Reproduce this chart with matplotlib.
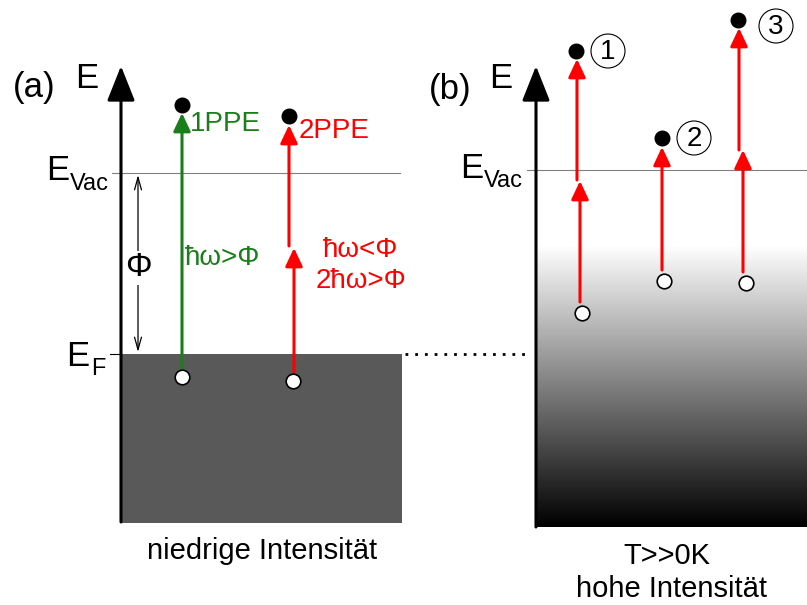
import numpy as np
import matplotlib.pyplot as plt
from matplotlib.patches import Rectangle, Circle

plt.rcParams['font.family'] = ['Liberation Sans', 'DejaVu Sans']

# everything is in pixel units of the 807x605 picture, y grows downwards
W, H = 807, 605

# # Panel (a): niedrige Intensitaet ______________________________________
a_axis = [121, 522, 66]            # x, bottom, arrow tip
a_vac = 173                        # E_Vac
a_fermi = 354                      # E_F
a_metal = [121, 402, 354, 523]     # left, right, top, bottom

# 1PPE: one green photon
ppe1_x = [182]
ppe1_from = [370]
ppe1_to = [113]
ppe1_hole = [182, 377]
ppe1_electron = [182, 105]

# 2PPE: two red photons
ppe2_x = [294, 289]
ppe2_from = [372, 246]
ppe2_to = [248, 125]
ppe2_hole = [293, 381]
ppe2_electron = [289, 116]

# # Panel (b): T>>0K, hohe Intensitaet ___________________________________
b_axis = [536, 527, 66]
b_vac = 170
b_block = [536, 807, 245, 527]

b_low_x = [580, 662, 743]
b_low_from = [302, 270, 272]
b_low_to = [181, 147, 150]
b_high_x = [577, 739]
b_high_from = [180, 150]
b_high_to = [59, 28]
b_holes_x = [582, 664, 746]
b_holes_y = [313, 281, 283]
b_el_x = [576, 662, 738]
b_el_y = [51, 138, 20]
b_tags = ['1', '2', '3']
b_tag_x = [608, 694, 776]
b_tag_y = [51, 138, 26]

GREEN = '#1a7f1a'
RED = '#ff0000'


def arrow(ax, x, y0, y1, color, lw=2.2, hl=0.55, hw=0.26, ms=20):
    ax.annotate('', xy=(x, y1), xytext=(x, y0),
                arrowprops=dict(arrowstyle='-|>,head_length=%g,head_width=%g' % (hl, hw),
                                color=color, lw=lw, shrinkA=0, shrinkB=0,
                                mutation_scale=ms))


def hole(ax, x, y):
    ax.plot(x, y, 'o', ms=10.5, mfc='white', mec='black', mew=1.2, zorder=5)


def electron(ax, x, y):
    ax.plot(x, y, 'o', ms=10.5, color='black', zorder=5)


def energy_axis(ax, xyz):
    x, y0, y1 = xyz
    arrow(ax, x, y0, y1, 'black', lw=2.2, hl=1.08, hw=0.43)


fig = plt.figure(figsize=(W / 100, H / 100), dpi=100)
ax = fig.add_axes([0, 0, 1, 1])

# # Panel (a)
l, r, t, b = a_metal
ax.add_patch(Rectangle((l, t), r - l, b - t, color='#595959', lw=0, zorder=1))
ax.plot([112, 400], [a_vac, a_vac], color='#808080', lw=0.8, zorder=2)
ax.plot([110, a_axis[0]], [a_fermi, a_fermi], color='black', lw=0.8, zorder=2)
ax.plot([r + 3, 530], [a_fermi, a_fermi], color='black', lw=2.0,
        ls=(0, (1, 2.5)), zorder=2)
energy_axis(ax, a_axis)

# work function
ax.annotate('', xy=(138, a_fermi - 2), xytext=(138, a_vac + 2),
            arrowprops=dict(arrowstyle='<->,head_length=0.9,head_width=0.25',
                            color='black', lw=0.9, shrinkA=0, shrinkB=0,
                            mutation_scale=10))
ax.text(138, 268, 'Φ', fontsize=24, ha='center', va='center',
        bbox=dict(fc='white', ec='none', pad=1), zorder=4)

for x, y0, y1 in zip(ppe1_x, ppe1_from, ppe1_to):
    arrow(ax, x, y0, y1, GREEN)
hole(ax, *ppe1_hole)
electron(ax, *ppe1_electron)

for x, y0, y1 in zip(ppe2_x, ppe2_from, ppe2_to):
    arrow(ax, x, y0, y1, RED)
hole(ax, *ppe2_hole)
electron(ax, *ppe2_electron)

ax.text(190, 124, '1PPE', color=GREEN, fontsize=20, va='center')
ax.text(299, 131, '2PPE', color=RED, fontsize=20, va='center')
ax.text(185, 258, 'ħω>Φ', color=GREEN, fontsize=20, va='center')
ax.text(361, 250, 'ħω<Φ', color=RED, fontsize=20, va='center', ha='center')
ax.text(361, 281, '2ħω>Φ', color=RED, fontsize=20, va='center', ha='center')

ax.text(34, 88, '(a)', fontsize=25, ha='center', va='center')
ax.text(87, 79, 'E', fontsize=25, ha='center', va='center')
ax.text(69, 171, 'E', fontsize=25, ha='right', va='center')
ax.text(70, 184, 'Vac', fontsize=17, ha='left', va='center')
ax.text(89, 357, 'E', fontsize=25, ha='right', va='center')
ax.text(91, 369, 'F', fontsize=17, ha='left', va='center')
ax.text(262, 551, 'niedrige Intensität', fontsize=21, ha='center', va='center')

# # Panel (b)
l, r, t, b = b_block
grad = np.linspace(1, 0, 256).reshape(-1, 1)
ax.imshow(grad, cmap='gray', vmin=0, vmax=1, aspect='auto',
          extent=(l, r, b, t), zorder=1)
ax.plot([527, W], [b_vac, b_vac], color='#808080', lw=0.8, zorder=2)
energy_axis(ax, b_axis)

for x, y0, y1 in zip(b_low_x, b_low_from, b_low_to):
    arrow(ax, x, y0, y1, RED)
for x, y0, y1 in zip(b_high_x, b_high_from, b_high_to):
    arrow(ax, x, y0, y1, RED)
for x, y in zip(b_holes_x, b_holes_y):
    hole(ax, x, y)
for x, y in zip(b_el_x, b_el_y):
    electron(ax, x, y)
for tag, x, y in zip(b_tags, b_tag_x, b_tag_y):
    ax.add_patch(Circle((x, y), 17, fill=False, ec='black', lw=0.8, zorder=3))
    ax.text(x, y + 1, tag, fontsize=20, ha='center', va='center')

ax.text(450, 90, '(b)', fontsize=25, ha='center', va='center')
ax.text(501, 79, 'E', fontsize=25, ha='center', va='center')
ax.text(483, 168, 'E', fontsize=25, ha='right', va='center')
ax.text(484, 181, 'Vac', fontsize=17, ha='left', va='center')
ax.text(667, 556, 'T>>0K', fontsize=21, ha='center', va='center')
ax.text(671, 589, 'hohe Intensität', fontsize=21, ha='center', va='center')

ax.set_xlim(0, W)
ax.set_ylim(H, 0)
ax.axis('off')
fig.savefig('out.png', dpi=100)
